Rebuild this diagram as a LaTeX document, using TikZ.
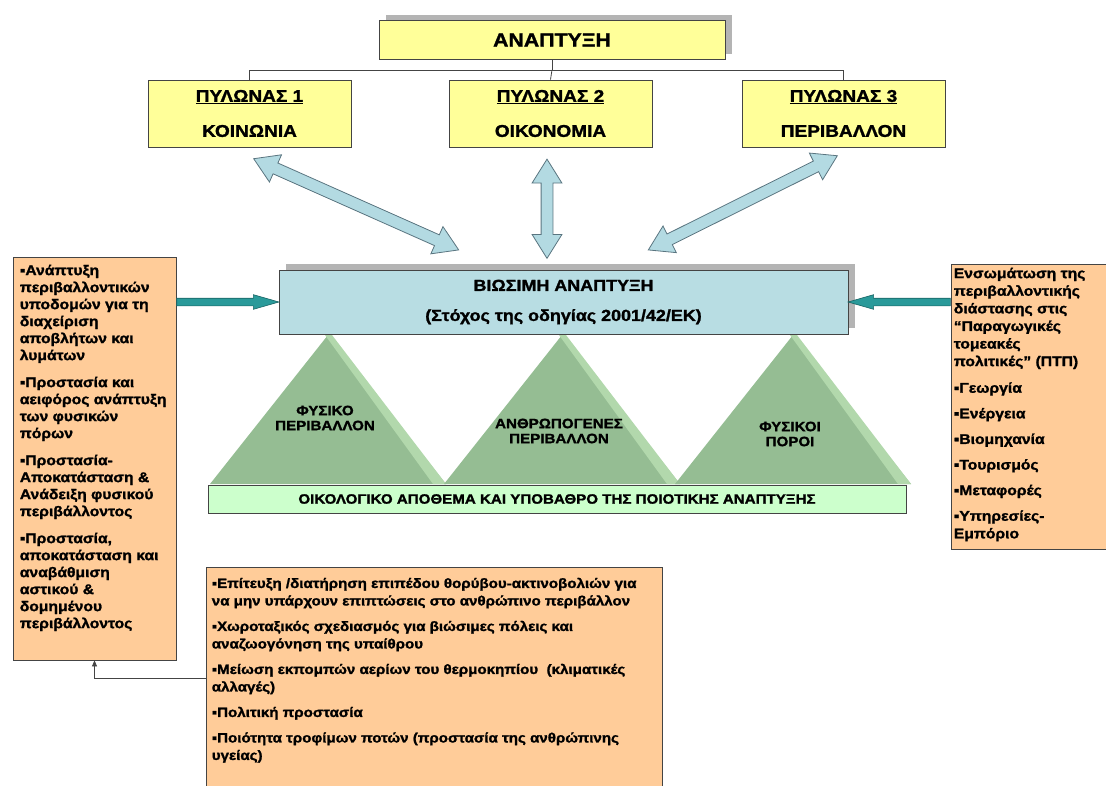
\documentclass[tikz,border=0pt]{standalone}
\usepackage{fontspec}
\setmainfont{Liberation Sans}[FakeStretch=1.12, BoldFeatures={FakeBold=1.5}]
\usetikzlibrary{positioning,calc,shapes.arrows,shadows,arrows.meta}

\definecolor{yelfill}{HTML}{FFFF99}
\definecolor{orfill}{HTML}{FFCC99}
\definecolor{bluefill}{HTML}{B8DDE3}
\definecolor{barfill}{HTML}{CCFFCC}
\definecolor{pyrfill}{HTML}{95BD93}
\definecolor{pyrlight}{HTML}{B2D8AC}
\definecolor{tealfill}{HTML}{2A9A9A}
\definecolor{tealdark}{HTML}{1A6464}
\definecolor{arrfill}{HTML}{B3DAE2}
\definecolor{arrline}{HTML}{5A7580}
\definecolor{boxline}{HTML}{444444}
\definecolor{shadowgray}{HTML}{B4B4B4}

\tikzset{
  box/.style={draw=boxline, line width=.8pt, inner sep=0pt},
  yelbox/.style={box, fill=yelfill, align=center},
  bluebox/.style={box, fill=bluefill, align=center},
  orbox/.style={box, fill=orfill},
  shadowed/.style={drop shadow={shadow xshift=7pt, shadow yshift=6pt, fill=shadowgray, opacity=1}},
  tree/.style={draw=boxline, line width=.8pt},
  fatarrow/.style={double arrow, anchor=tip 2, draw=arrline, fill=arrfill, line width=.8pt, inner xsep=0pt, inner ysep=5.5pt,
    double arrow head extend=9pt, double arrow tip angle=64},
  tealarrow/.style={single arrow, anchor=tail, draw=tealdark, fill=tealfill, line width=.6pt, inner xsep=0pt, inner ysep=3.5pt,
    single arrow head extend=3.5pt, single arrow tip angle=32},
  txt/.style={inner sep=0pt, align=left, font=\bfseries\fontsize{14}{17}\selectfont},
  pyrtxt/.style={inner sep=0pt, align=center, font=\bfseries\fontsize{13.5}{15}\selectfont},
}

% block arrow between two points
\newcommand{\linkarrow}[3]{%
  \path let \p1=($(#3)-(#2)$), \n1={atan2(\y1,\x1)}, \n2={veclen(\x1,\y1)} in
    node[#1, rotate=\n1, minimum height=\n2] at (#2) {};}

\newcommand{\bul}{▪}

\begin{document}
\begin{tikzpicture}[x=1pt, y=-1pt]
\useasboundingbox (0,0) rectangle (1106,785);

% top of the tree
\node[yelbox, shadowed, minimum width=346pt, minimum height=39pt, font=\bfseries\fontsize{19}{22}\selectfont] (dev) at (552,40) {ΑΝΑΠΤΥΞΗ};
\node[yelbox, minimum width=203pt, minimum height=67pt, font=\bfseries\fontsize{17}{35}\selectfont] (pyl1) at (249.5,113.5) {\underline{ΠΥΛΩΝΑΣ 1}\\ΚΟΙΝΩΝΙΑ};
\node[yelbox, minimum width=203pt, minimum height=67pt, font=\bfseries\fontsize{17}{35}\selectfont] (pyl2) at (550.5,113.5) {\underline{ΠΥΛΩΝΑΣ 2}\\ΟΙΚΟΝΟΜΙΑ};
\node[yelbox, minimum width=203pt, minimum height=67pt, font=\bfseries\fontsize{17}{35}\selectfont] (pyl3) at (843.5,113.5) {\underline{ΠΥΛΩΝΑΣ 3}\\ΠΕΡΙΒΑΛΛΟΝ};
\draw[tree] (dev.south) -- ++(0,10) coordinate (hub);
\draw[tree] (hub) -| (pyl1.north);
\draw[tree] (hub) -- (pyl2.north);
\draw[tree] (hub) -| (pyl3.north);

% pyramids
\foreach \ax/\ty/\nm/\lbl in {328/418/natenv/{ΦΥΣΙΚΟ\\ΠΕΡΙΒΑΛΛΟΝ}, 562/431/manenv/{ΑΝΘΡΩΠΟΓΕΝΕΣ\\ΠΕΡΙΒΑΛΛΟΝ}, 793/434/natres/{ΦΥΣΙΚΟΙ\\ΠΟΡΟΙ}} {
  \fill[pyrfill] (\ax-118,484) -- (\ax,335) -- (\ax+118,484) -- cycle;
  \fill[pyrlight] (\ax-3,335) -- (\ax+4,335) -- (\ax+118,484) -- (\ax+105,484) -- cycle;
  \node[pyrtxt] (\nm) at (\ax-3,\ty) {\lbl};
}
\node[box, fill=barfill, minimum width=698pt, minimum height=28pt, font=\bfseries\fontsize{13.5}{15}\selectfont] (stock) at (557,499) {ΟΙΚΟΛΟΓΙΚΟ ΑΠΟΘΕΜΑ ΚΑΙ ΥΠΟΒΑΘΡΟ ΤΗΣ ΠΟΙΟΤΙΚΗΣ ΑΝΑΠΤΥΞΗΣ};

\node[bluebox, shadowed, minimum width=569pt, minimum height=64pt, font=\bfseries\fontsize{16}{30}\selectfont] (bio) at (563.5,302) {ΒΙΩΣΙΜΗ ΑΝΑΠΤΥΞΗ\\(Στόχος της οδηγίας 2001/42/ΕΚ)};

% side boxes
\node[orbox, minimum width=163pt, minimum height=403pt] (lbox) at (94.5,458.5) {};
\node[txt, below right=8pt and 7pt of lbox.north west] (ltext) {\bul Ανάπτυξη\\περιβαλλοντικών\\υποδομών για τη\\διαχείριση\\αποβλήτων και\\λυμάτων\\[10pt]
\bul Προστασία και\\αειφόρος ανάπτυξη\\των φυσικών\\πόρων\\[10pt]
\bul Προστασία-\\Αποκατάσταση \&\\Ανάδειξη φυσικού\\περιβάλλοντος\\[10pt]
\bul Προστασία,\\αποκατάσταση και\\αναβάθμιση\\αστικού \&\\δομημένου\\περιβάλλοντος};

\node[orbox, minimum width=164pt, minimum height=285pt] (rbox) at (1033,406.5) {};
\node[txt, font=\bfseries\fontsize{14}{17.6}\selectfont, below right=4pt and 3pt of rbox.north west] (rtext) {Ενσωμάτωση της\\περιβαλλοντικής\\διάστασης στις\\“Παραγωγικές\\τομεακές\\πολιτικές” (ΠΤΠ)\\[9pt]
\bul Γεωργία\\[8pt]\bul Ενέργεια\\[8pt]\bul Βιομηχανία\\[8pt]\bul Τουρισμός\\[8pt]\bul Μεταφορές\\[8pt]\bul Υπηρεσίες-\\Εμπόριο};

\node[orbox, minimum width=456pt, minimum height=233pt] (bbox) at (434,683.5) {};
\node[txt, font=\bfseries\fontsize{13.5}{17.5}\selectfont, below right=11pt and 6pt of bbox.north west] (btext) {\bul Επίτευξη /διατήρηση επιπέδου θορύβου-ακτινοβολιών για\\να μην υπάρχουν επιπτώσεις στο ανθρώπινο περιβάλλον\\[8pt]
\bul Χωροταξικός σχεδιασμός για βιώσιμες πόλεις και\\αναζωογόνηση της υπαίθρου\\[8pt]
\bul Μείωση εκπομπών αερίων του θερμοκηπίου \ (κλιματικές\\αλλαγές)\\[8pt]
\bul Πολιτική προστασία\\[8pt]
\bul Ποιότητα τροφίμων ποτών (προστασία της ανθρώπινης\\υγείας)};
\draw[tree, -{Triangle[length=6pt,width=5pt]}] ([yshift=-112pt]bbox.north west) -| (lbox.south);

% arrows
\coordinate (k1) at ([shift={(3.5,11)}]pyl1.south);
\coordinate (k2) at ([shift={(-3.5,11)}]pyl2.south);
\coordinate (k3) at ([shift={(-5.5,8)}]pyl3.south);
\coordinate (b1) at ([shift={(-105.5,-20)}]bio.north);
\coordinate (b2) at ([shift={(-16.5,-12)}]bio.north);
\coordinate (b3) at ([shift={(85.5,-20)}]bio.north);
\linkarrow{fatarrow}{k1}{b1}
\linkarrow{fatarrow}{k2}{b2}
\linkarrow{fatarrow}{k3}{b3}
\coordinate (lin) at (lbox.east |- bio.west);
\coordinate (rin) at (rbox.west |- bio.east);
\linkarrow{tealarrow}{lin}{bio.west}
\linkarrow{tealarrow}{rin}{bio.east}
\end{tikzpicture}
\end{document}
